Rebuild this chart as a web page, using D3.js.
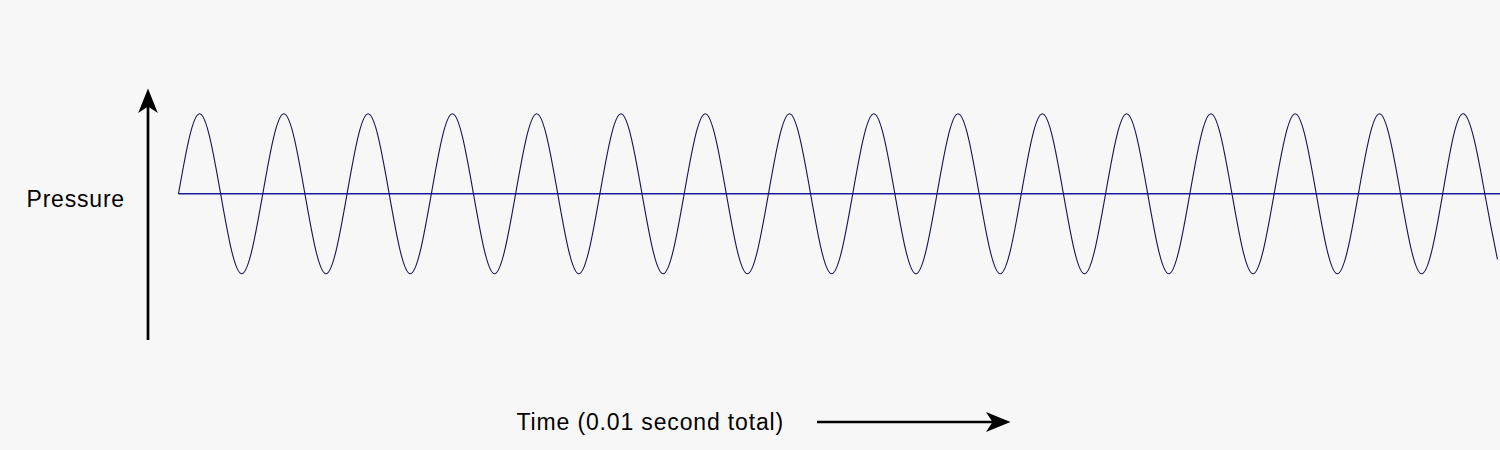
<!DOCTYPE html>
<html>
<head>
<meta charset="utf-8">
<script src="https://cdn.jsdelivr.net/npm/d3@7"></script>
<style>
  html, body { margin: 0; padding: 0; background: #f7f7f7; }
  svg { display: block; }
  text { font-family: "Liberation Sans", Arial, sans-serif; fill: #000; }
</style>
</head>
<body>
<div id="chart"></div>
<script>
// ---- data ----
const timeExtent = [0, 0.01];            // seconds (0.01 second total)
const pressureExtent = [-1, 1];          // relative pressure
const quarterPeriod = [0.00015974];      // seconds between successive zero / peak samples
// pressure at each quarter-period: zero, peak, zero, trough, ...
const pressureSamples = [
  0, 1, 0, -1, 0, 1, 0, -1, 0, 1, 0, -1, 0, 1, 0, -1,
  0, 1, 0, -1, 0, 1, 0, -1, 0, 1, 0, -1, 0, 1, 0, -1,
  0, 1, 0, -1, 0, 1, 0, -1, 0, 1, 0, -1, 0, 1, 0, -1,
  0, 1, 0, -1, 0, 1, 0, -1, 0, 1, 0, -1, 0, 1, 0
];
const endPressure = [-0.82];             // value at t = 0.01 s
const labels = ["Pressure", "Time (0.01 second total)"];

// ---- layout ----
const W = 1500, H = 450;
const svg = d3.select("#chart").append("svg").attr("width", W).attr("height", H);
svg.append("rect").attr("width", W).attr("height", H).attr("fill", "#f7f7f7");

const x = d3.scaleLinear().domain(timeExtent).range([178.5, 1497.5]);
const y = d3.scaleLinear().domain(pressureExtent).range([273.8, 113.8]);

const points = pressureSamples.map((p, i) => [i * quarterPeriod[0], p]);
points.push([timeExtent[1], endPressure[0]]);

// baseline (zero pressure)
svg.append("line")
  .attr("x1", x(0)).attr("x2", W)
  .attr("y1", y(0)).attr("y2", y(0))
  .attr("stroke", "#1a1a9a").attr("stroke-width", 1.4);

// wave
const line = d3.line().x(d => x(d[0])).y(d => y(d[1])).curve(d3.curveNatural);
svg.append("path")
  .datum(points)
  .attr("d", line)
  .attr("fill", "none")
  .attr("stroke", "#14145a")
  .attr("stroke-width", 1.1);

// vertical pressure arrow
svg.append("line")
  .attr("x1", 148).attr("x2", 148).attr("y1", 340).attr("y2", 106)
  .attr("stroke", "#000").attr("stroke-width", 2.7);
svg.append("path")
  .attr("d", "M148,88.5 L157.8,113 L148,106.5 L138.2,113 Z")
  .attr("fill", "#000");

// horizontal time arrow
svg.append("line")
  .attr("x1", 817).attr("x2", 994).attr("y1", 422).attr("y2", 422)
  .attr("stroke", "#000").attr("stroke-width", 2.7);
svg.append("path")
  .attr("d", "M1010.5,422 L986,412 L992.5,422 L986,432 Z")
  .attr("fill", "#000");

// labels
svg.append("text")
  .attr("x", 26.5).attr("y", 206.5)
  .style("font-size", "23px").style("letter-spacing", "0.8px")
  .text(labels[0]);
svg.append("text")
  .attr("x", 516.5).attr("y", 430)
  .style("font-size", "23px").style("letter-spacing", "0.85px")
  .text(labels[1]);
</script>
</body>
</html>
